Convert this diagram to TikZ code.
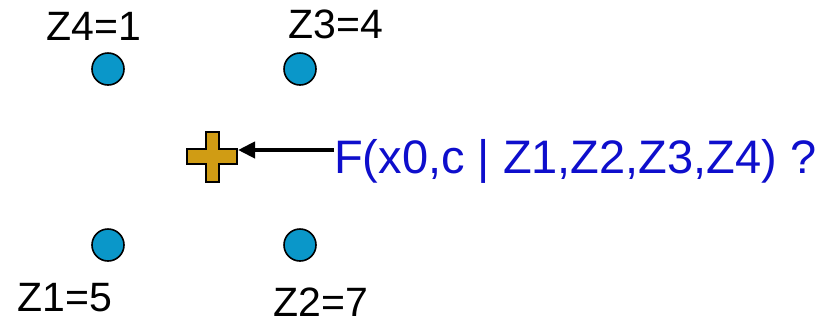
\documentclass[tikz,border=0pt]{standalone}
\usepackage{fontspec}
\setmainfont{Liberation Sans}
\usetikzlibrary{arrows.meta}
\definecolor{dotblue}{HTML}{0A97C9}
\definecolor{crossgold}{HTML}{D09C14}
\definecolor{txtblue}{HTML}{0E0ECC}
\tikzset{
  dot/.style={circle, draw=black, line width=1.6pt, fill=dotblue, minimum size=32pt, inner sep=0pt},
  lbl/.style={font=\fontsize{41}{41}\selectfont, inner sep=0pt, anchor=base},
  qtxt/.style={font=\fontsize{47}{47}\selectfont, text=txtblue, inner sep=0pt, anchor=base west},
  crossstyle/.style={draw=black, line width=1.4pt, fill=crossgold},
  arr/.style={line width=4pt, -{Triangle[length=17pt,width=16pt]}}
}
\begin{document}
\begin{tikzpicture}[x=1pt,y=-1pt]
\useasboundingbox (0,0) rectangle (834,325);
\node[dot] (z4) at (108,69) {};
\node[dot] (z3) at (300,69) {};
\node[dot] (z1) at (108,245) {};
\node[dot] (z2) at (300,245) {};
\node[lbl] (l4) at (94,40) {Z4=1};
\node[lbl] (l3) at (336,38) {Z3=4};
\node[lbl] (l1) at (65,311) {Z1=5};
\node[lbl] (l2) at (321,316) {Z2=7};
\draw[crossstyle] (206,132) -- (219,132) -- (219,149) -- (237,149) -- (237,164) -- (219,164) -- (219,182) -- (206,182) -- (206,164) -- (187,164) -- (187,149) -- (206,149) -- cycle;
\coordinate (tip) at (238,150);
\node[qtxt] (q) at (334,173) {F(x0,c | Z1,Z2,Z3,Z4) ?};
\draw[arr] (tip -| q.west) -- (tip);
\end{tikzpicture}
\end{document}
